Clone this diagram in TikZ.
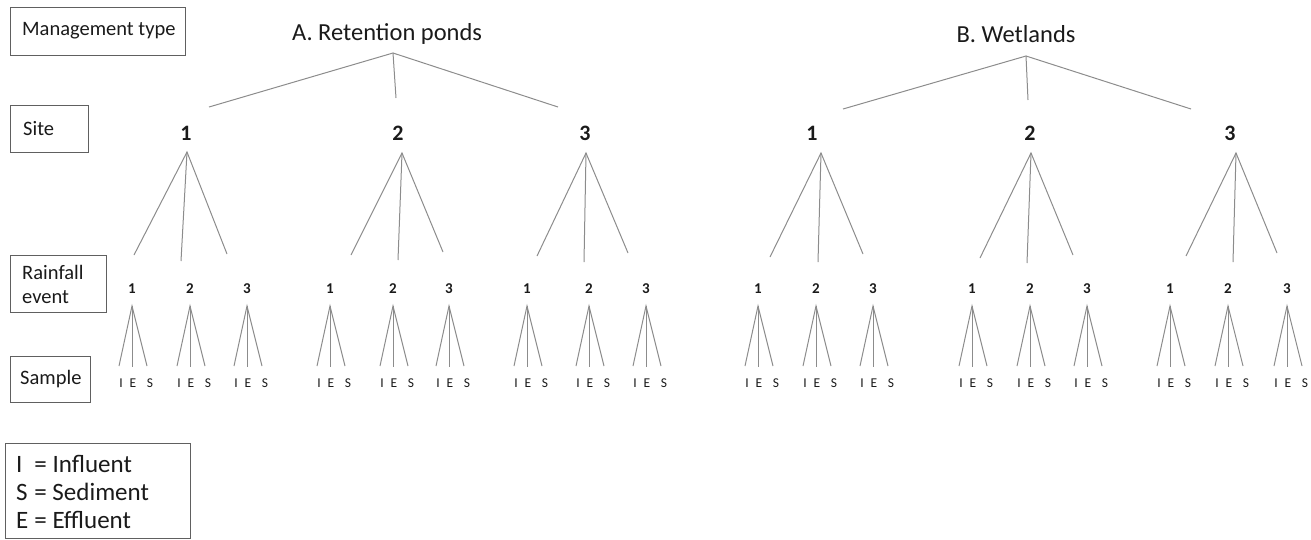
\documentclass[tikz,border=0pt]{standalone}
\usepackage{fontspec}
\setmainfont{Carlito}
\definecolor{txt}{HTML}{1A1A1A}
\definecolor{boxgray}{HTML}{606060}
\definecolor{linegray}{HTML}{8C8C8C}
\begin{document}
\begin{tikzpicture}[x=1pt,y=-1pt,
  boxline/.style={draw=boxgray, line width=1.4pt, inner sep=0pt, anchor=north west},
  boxlabel/.style={font=\fontsize{20.5}{24}\selectfont, text=txt, inner sep=0pt, anchor=west},
  titletext/.style={font=\fontsize{24.5}{28}\selectfont, text=txt, inner sep=0pt, anchor=base},
  sitenum/.style={font=\bfseries\fontsize{22}{26}\selectfont, text=txt, inner sep=0pt},
  rainnum/.style={font=\bfseries\fontsize{15}{18}\selectfont, text=txt, inner sep=0pt},
  samp/.style={font=\fontsize{13.5}{16}\selectfont, text=txt, inner sep=0pt},
  branch/.style={draw=linegray, line width=1pt}]
\useasboundingbox (0,0) rectangle (1311,539);

% level boxes
\node[boxline, minimum width=175pt, minimum height=48pt] (mgmtbox) at (10,7) {};
\node[boxlabel] (mgmttxt) at (22,31) {Management type};
\node[boxline, minimum width=78pt, minimum height=47pt] (sitebox) at (10,105) {};
\node[boxlabel] (sitetxt) at (23,129) {Site};
\node[boxline, minimum width=96pt, minimum height=57pt] (rainbox) at (10,255) {};
\node[boxlabel, anchor=base west] (raintxt1) at (22,279) {Rainfall};
\node[boxlabel, anchor=base west] (raintxt2) at (22,303) {event};
\node[boxline, minimum width=80pt, minimum height=46pt] (sampbox) at (10,356) {};
\node[boxlabel] (samptxt) at (20,379) {Sample};

% legend
\node[boxline, minimum width=185pt, minimum height=95pt] (legbox) at (5,443) {};
\node[font=\fontsize{25}{28}\selectfont, text=txt, inner sep=0pt, anchor=base west] (legtxt) at (16,472)
  {\begin{tabular}[t]{@{}l@{\hspace{6pt}}l@{}}I & = Influent\\ S & = Sediment\\ E & = Effluent\end{tabular}};

% management types
\node[titletext, anchor=base west] (Atitle) at (292,40) {A. Retention ponds};
\node[titletext] (Btitle) at (1016,42) {B. Wetlands};

\coordinate (Aapex) at (393,53);
\coordinate (A-e1) at (209,107);
\coordinate (A-e2) at (396,98);
\coordinate (A-e3) at (558,107);
\draw[branch] (A-e1) -- (Aapex) -- (A-e3);
\draw[branch] (Aapex) -- (A-e2);

\coordinate (Bapex) at (1026,56);
\coordinate (B-e1) at (843,109);
\coordinate (B-e2) at (1028,100);
\coordinate (B-e3) at (1191,109);
\draw[branch] (B-e1) -- (Bapex) -- (B-e3);
\draw[branch] (Bapex) -- (B-e2);

% sites
\foreach \nm/\d/\lx/\ax/\ay/\l/\ly/\m/\my/\r/\ry in {
  A1/1/186/187/152/134/255/181/261/227/254,
  A2/2/398/402/153/351/255/398/260/443/252,
  A3/3/585/586/153/537/256/584/262/628/253,
  B1/1/812/821/153/770/257/818/262/863/254,
  B2/2/1030/1031/153/980/258/1027/263/1073/255,
  B3/3/1230/1236/153/1186/256/1233/262/1277/253}{
  \node[sitenum] (s\nm) at (\lx,133) {\d};
  \coordinate (s\nm-top) at (\ax,\ay);
  \coordinate (s\nm-l) at (\l,\ly);
  \coordinate (s\nm-m) at (\m,\my);
  \coordinate (s\nm-r) at (\r,\ry);
  \draw[branch] (s\nm-l) -- (s\nm-top) -- (s\nm-r);
  \draw[branch] (s\nm-top) -- (s\nm-m);
}

% rainfall events and samples
\foreach \s/\d/\x in {
  A1/1/132, A1/2/190, A1/3/247,
  A2/1/330, A2/2/393, A2/3/449,
  A3/1/527, A3/2/589, A3/3/646,
  B1/1/758, B1/2/816, B1/3/873,
  B2/1/972, B2/2/1030, B2/3/1087,
  B3/1/1170, B3/2/1228, B3/3/1287}{
  \node[rainnum] (r\s\d) at (\x,289) {\d};
  \coordinate (r\s\d-top) at (\x,306);
  \coordinate (r\s\d-l) at ({\x-13},366);
  \coordinate (r\s\d-m) at (\x,367);
  \coordinate (r\s\d-r) at ({\x+15},366);
  \draw[branch] (r\s\d-l) -- (r\s\d-top) -- (r\s\d-r);
  \draw[branch] (r\s\d-top) -- (r\s\d-m);
  \node[samp] (r\s\d-I) at ({\x-11},383) {I};
  \node[samp] (r\s\d-E) at ({\x+1},383) {E};
  \node[samp] (r\s\d-S) at ({\x+18},383) {S};
}
\end{tikzpicture}
\end{document}
